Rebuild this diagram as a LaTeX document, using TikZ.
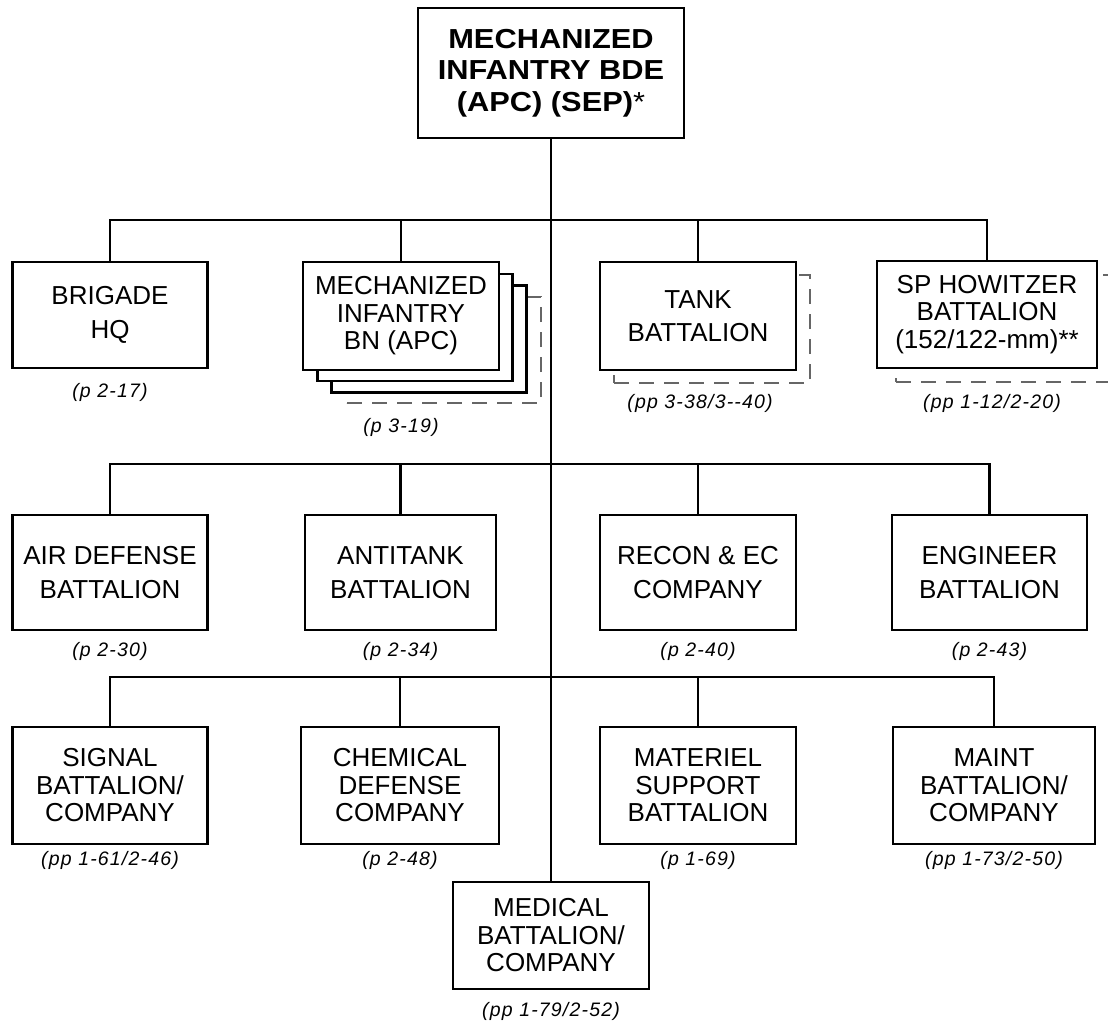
\documentclass[tikz,border=0pt]{standalone}
\usepackage{fontspec}
\setmainfont{Liberation Sans}
\newfontfamily\titlefont[FakeStretch=1.12]{Liberation Sans}
\newfontfamily\pagefont[LetterSpace=6]{Liberation Sans}
\usetikzlibrary{positioning}

\tikzset{
  unitbox/.style={draw, line width=2.6pt, fill=white, align=center, inner sep=0pt,
    font=\fontsize{26}{33.5}\selectfont},
  tallbox/.style={unitbox, font=\fontsize{26}{27.5}\selectfont},
  ghost/.style={draw=black!60, line width=1.4pt, dash pattern=on 15pt off 10pt, inner sep=0pt},
  pg/.style={anchor=north, inner sep=0pt, font=\pagefont\itshape\fontsize{19.5}{21}\selectfont},
  link/.style={line width=2.6pt},
}

\begin{document}
\begin{tikzpicture}[x=1pt,y=-1pt]
  \useasboundingbox (0,0) rectangle (1108,1023);
  \clip (0,0) rectangle (1108,1023);
  % headquarters
  \node[unitbox, font=\titlefont\bfseries\fontsize{27.5}{31.5}\selectfont,
    minimum width=266pt, minimum height=130pt] (bde) at (551,73)
    {MECHANIZED\\INFANTRY BDE\\(APC) (SEP){\mdseries *}};

  % first row
  \node[unitbox, minimum width=195pt, minimum height=106pt] (hq) at (110,315) {BRIGADE\\HQ};
  \coordinate (mechc) at (401,316);
  \node[ghost, minimum width=194pt, minimum height=106pt] (mechd) at ([xshift=43pt,yshift=-34pt]mechc) {};
  \foreach \k in {2,1}
    \node[unitbox, minimum width=195pt, minimum height=107pt] at ([xshift=\k*14pt,yshift=-\k*11.5pt]mechc) {};
  \node[tallbox, minimum width=196pt, minimum height=108pt] (mech) at (mechc) {MECHANIZED\\INFANTRY\\BN (APC)};
  \node[ghost, minimum width=196pt, minimum height=108pt] (tankd) at (712,329) {};
  \node[unitbox, minimum width=196pt, minimum height=108pt] (tank) at (698,316) {TANK\\BATTALION};
  \node[ghost, minimum width=220pt, minimum height=107pt] (spd) at (1006,328.5) {};
  \node[tallbox, minimum width=220pt, minimum height=107pt] (sp) at (987,314.5) {SP HOWITZER\\BATTALION\\(152/122-mm)**};

  % second row
  \node[unitbox, minimum width=195pt, minimum height=115pt] (airdef) at (110,572.5) {AIR DEFENSE\\BATTALION};
  \node[unitbox, minimum width=191pt, minimum height=115pt] (antitank) at (400.5,572.5) {ANTITANK\\BATTALION};
  \node[unitbox, minimum width=196pt, minimum height=115pt] (recon) at (698,572.5) {RECON \& EC\\COMPANY};
  \node[unitbox, minimum width=195pt, minimum height=115pt] (engr) at (989.5,572.5) {ENGINEER\\BATTALION};

  % third row
  \node[tallbox, minimum width=195pt, minimum height=117pt] (signal) at (110,785.5) {SIGNAL\\BATTALION/\\COMPANY};
  \node[tallbox, minimum width=198pt, minimum height=117pt] (chem) at (400,785.5) {CHEMICAL\\DEFENSE\\COMPANY};
  \node[tallbox, minimum width=196pt, minimum height=117pt] (matl) at (698,785.5) {MATERIEL\\SUPPORT\\BATTALION};
  \node[tallbox, minimum width=202pt, minimum height=117pt] (maint) at (994,785.5) {MAINT\\BATTALION/\\COMPANY};
  \node[tallbox, minimum width=196pt, minimum height=107pt] (med) at (551,935.5) {MEDICAL\\BATTALION/\\COMPANY};

  % connectors
  \coordinate (bar1) at (551,220);
  \coordinate (bar2) at (551,464);
  \coordinate (bar3) at (551,677);
  \draw[link] (bde.south) -- (med.north);
  \draw[link] (hq.north) |- (bar1) -| (sp.north);
  \draw[link] (mech.north) -- (mech.north |- bar1);
  \draw[link] (tank.north) -- (tank.north |- bar1);
  \draw[link] (airdef.north) |- (bar2) -| (engr.north);
  \draw[link] (antitank.north) -- (antitank.north |- bar2);
  \draw[link] (recon.north) -- (recon.north |- bar2);
  \draw[link] (signal.north) |- (bar3) -| (maint.north);
  \draw[link] (chem.north) -- (chem.north |- bar3);
  \draw[link] (matl.north) -- (matl.north |- bar3);

  % page references
  \node[pg, yshift=-14pt] (hqpg) at (hq.south) {(p 2-17)};
  \node[pg, yshift=-14pt] (mechpg) at (mech.south |- mechd.south) {(p 3-19)};
  \node[pg, yshift=-10pt, xshift=2pt] (tankpg) at (tank.south |- tankd.south) {(pp 3-38/3--40)};
  \node[pg, yshift=-11pt, xshift=5pt] (sppg) at (sp.south |- spd.south) {(pp 1-12/2-20)};
  \node[pg, yshift=-11pt] (airdefpg) at (airdef.south) {(p 2-30)};
  \node[pg, yshift=-11pt] (antitankpg) at (antitank.south) {(p 2-34)};
  \node[pg, yshift=-11pt] (reconpg) at (recon.south) {(p 2-40)};
  \node[pg, yshift=-11pt] (engrpg) at (engr.south) {(p 2-43)};
  \node[pg, yshift=-6pt] (signalpg) at (signal.south) {(pp 1-61/2-46)};
  \node[pg, yshift=-6pt] (chempg) at (chem.south) {(p 2-48)};
  \node[pg, yshift=-6pt] (matlpg) at (matl.south) {(p 1-69)};
  \node[pg, yshift=-6pt] (maintpg) at (maint.south) {(pp 1-73/2-50)};
  \node[pg, yshift=-12pt] (medpg) at (med.south) {(pp 1-79/2-52)};
\end{tikzpicture}
\end{document}
